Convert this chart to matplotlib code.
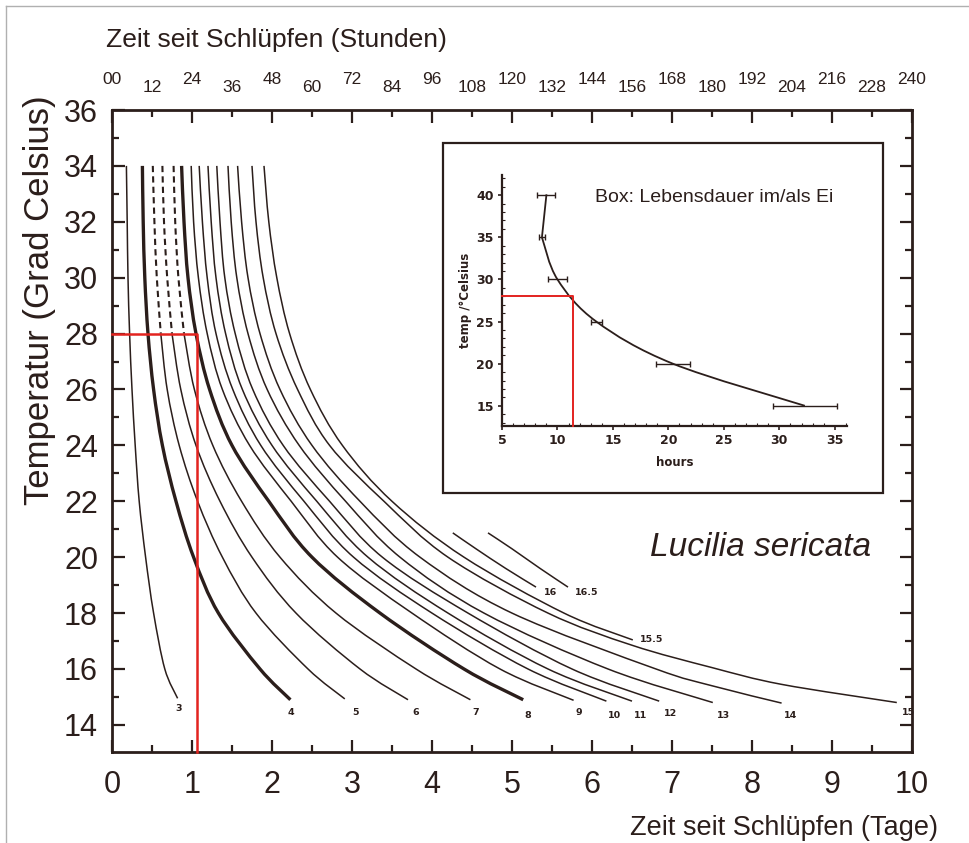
import matplotlib
matplotlib.use('Agg')
import matplotlib.pyplot as plt
from matplotlib.patches import Rectangle, PathPatch
from matplotlib.path import Path
from matplotlib.lines import Line2D
from matplotlib.ticker import MultipleLocator

# ---------------- data ----------------
day_ticks = list(range(0, 11))
temp_ticks = list(range(14, 37, 2))
hour_values = [0, 12, 24, 36, 48, 60, 72, 84, 96, 108, 120, 132, 144, 156,
               168, 180, 192, 204, 216, 228, 240]
hour_labels = ['00', '12', '24', '36', '48', '60', '72', '84', '96', '108', '120',
               '132', '144', '156', '168', '180', '192', '204', '216', '228', '240']

# isomegalen curves (larval length, mm): temperature (degC) vs time (days)
temps_3 = [34, 32, 30, 28, 26, 24, 22, 20, 18, 16, 14.95]
days_3 = [0.18, 0.19, 0.20, 0.22, 0.25, 0.29, 0.34, 0.42, 0.52, 0.66, 0.82]
temps_4 = [34, 32, 30, 28, 26, 24, 22, 20, 18, 16, 14.9]
days_4 = [0.38, 0.39, 0.41, 0.45, 0.52, 0.63, 0.80, 1.02, 1.33, 1.85, 2.23]
temps_5 = [34, 32, 30, 28, 26, 24, 22, 20, 18, 16, 14.93]
days_5 = [0.51, 0.53, 0.56, 0.61, 0.69, 0.84, 1.07, 1.38, 1.80, 2.45, 2.91]
temps_6 = [34, 32, 30, 28, 26, 24, 22, 20, 18, 16, 14.9]
days_6 = [0.63, 0.65, 0.69, 0.75, 0.86, 1.05, 1.35, 1.75, 2.30, 3.10, 3.70]
temps_7 = [34, 32, 30, 28, 26, 24, 22, 20, 18, 16, 14.9]
days_7 = [0.77, 0.79, 0.83, 0.90, 1.03, 1.26, 1.62, 2.10, 2.80, 3.80, 4.48]
temps_8 = [34, 32, 30, 28, 26, 24, 22, 20, 18, 16, 14.9]
days_8 = [0.87, 0.90, 0.95, 1.05, 1.22, 1.50, 1.96, 2.50, 3.35, 4.40, 5.14]
temps_9 = [34, 32, 30, 28, 26, 24, 22, 20, 18, 16, 14.88]
days_9 = [0.99, 1.02, 1.08, 1.19, 1.38, 1.72, 2.24, 2.82, 3.75, 4.85, 5.77]
temps_10 = [34, 32, 30, 28, 26, 24, 22, 20, 18, 16, 14.85]
days_10 = [1.09, 1.13, 1.19, 1.30, 1.51, 1.86, 2.40, 3.02, 4.00, 5.20, 6.18]
temps_11 = [34, 32, 30, 28, 26, 24, 22, 20, 18, 16, 14.85]
days_11 = [1.20, 1.24, 1.30, 1.42, 1.63, 2.00, 2.56, 3.20, 4.20, 5.45, 6.50]
temps_12 = [34, 32, 30, 28, 26, 24, 22, 20, 18, 16, 14.85]
days_12 = [1.31, 1.35, 1.41, 1.54, 1.76, 2.14, 2.72, 3.38, 4.45, 5.75, 6.84]
temps_13 = [34, 32, 30, 28, 26, 24, 22, 20, 18, 16, 14.8]
days_13 = [1.45, 1.49, 1.56, 1.70, 1.94, 2.34, 2.92, 3.60, 4.65, 6.20, 7.51]
temps_14 = [34, 32, 30, 28, 26, 24, 22, 20, 18, 16, 15.4, 14.78]
days_14 = [1.57, 1.62, 1.70, 1.85, 2.10, 2.50, 3.10, 3.85, 5.00, 6.80, 7.50, 8.37]
temps_15 = [34, 32, 30, 28, 26, 24, 22, 20, 18, 16.85, 16.05, 15.45, 14.8]
days_15 = [1.75, 1.80, 1.89, 2.05, 2.32, 2.72, 3.40, 4.20, 5.45, 6.50, 7.50, 8.37, 9.81]
temps_15_5 = [34, 32, 30, 28, 26, 24, 22, 20, 18, 17.04]
days_15_5 = [1.90, 1.96, 2.06, 2.22, 2.48, 2.88, 3.50, 4.40, 5.65, 6.51]
temps_16 = [20.87, 20.3, 19.6, 18.93]
days_16 = [4.26, 4.55, 4.92, 5.30]
temps_16_5 = [20.87, 20.3, 19.6, 18.93]
days_16_5 = [4.70, 5.00, 5.35, 5.70]

curve_names = ['3', '4', '5', '6', '7', '8', '9', '10', '11', '12', '13', '14', '15',
               '15.5', '16', '16.5']
curve_temps = [temps_3, temps_4, temps_5, temps_6, temps_7, temps_8, temps_9, temps_10,
               temps_11, temps_12, temps_13, temps_14, temps_15, temps_15_5, temps_16,
               temps_16_5]
curve_days = [days_3, days_4, days_5, days_6, days_7, days_8, days_9, days_10, days_11,
              days_12, days_13, days_14, days_15, days_15_5, days_16, days_16_5]
thick_curves = ['4', '8']
dashed_top_curves = ['5', '6', '7']
dash_limit_temp = 28

# marker (red) for 28 degC
marker_temp = 28
marker_day = 1.06

# inset: egg duration
egg_temps = [40, 35, 30, 25, 20, 15]
egg_hours = [9.0, 8.6, 10.0, 13.5, 20.4, 32.3]
egg_err = [0.8, 0.3, 0.85, 0.5, 1.55, 2.9]
egg_marker_hours = 11.4

# label positions (layout)
label_pos = {'3': (0.83, 14.57), '4': (2.24, 14.43), '5': (3.04, 14.43), '6': (3.80, 14.43),
             '7': (4.54, 14.43), '8': (5.20, 14.35), '9': (5.84, 14.46), '10': (6.28, 14.35),
             '11': (6.61, 14.35), '12': (6.98, 14.40), '13': (7.64, 14.35), '14': (8.48, 14.35),
             '15': (9.95, 14.43), '15.5': (6.74, 17.07), '16': (5.48, 18.72), '16.5': (5.93, 18.72)}

# ---------------- style ----------------
W, H = 970, 843
INK = '#2b1e1b'
RED = '#e3231f'
plt.rcParams['font.family'] = ['Liberation Sans', 'DejaVu Sans']

fig = plt.figure(figsize=(W / 100, H / 100), dpi=100)


def fx(px):
    return px / W


def fy(py):
    return 1 - py / H


def smooth_curve(ax, xs, ys, **kw):
    """Draw a smooth (Catmull-Rom style Bezier) line through the given points."""
    pts = list(zip(xs, ys))
    verts = [pts[0]]
    codes = [Path.MOVETO]
    n = len(pts)
    for i in range(n - 1):
        p0 = pts[i - 1] if i > 0 else pts[i]
        p1 = pts[i]
        p2 = pts[i + 1]
        p3 = pts[i + 2] if i + 2 < n else pts[i + 1]
        c1 = (p1[0] + (p2[0] - p0[0]) / 6, p1[1] + (p2[1] - p0[1]) / 6)
        c2 = (p2[0] - (p3[0] - p1[0]) / 6, p2[1] - (p3[1] - p1[1]) / 6)
        verts += [c1, c2, p2]
        codes += [Path.CURVE4] * 3
    patch = PathPatch(Path(verts, codes), fill=False, **kw)
    ax.add_patch(patch)


# outer thin frame of the scan
fig.add_artist(Line2D([fx(6), 1], [fy(6), fy(6)], color='#b0b0b0', lw=1.0))
fig.add_artist(Line2D([fx(6), fx(6)], [fy(6), 0], color='#b0b0b0', lw=1.0))

ax = fig.add_axes([fx(112), fy(752), fx(912) - fx(112), fy(110) - fy(752)])
ax.set_xlim(0, 10)
ax.set_ylim(13.03, 36)
for s in ax.spines.values():
    s.set_color(INK)
    s.set_linewidth(2.0)

ax.set_xticks(day_ticks)
ax.set_xticklabels([str(d) for d in day_ticks])
ax.xaxis.set_minor_locator(MultipleLocator(0.5))
ax.set_yticks(temp_ticks)
ax.set_yticklabels([str(t) for t in temp_ticks])
ax.yaxis.set_minor_locator(MultipleLocator(1))
ax.tick_params(which='both', direction='in', top=True, right=True, colors=INK, width=1.6)
ax.tick_params(which='major', length=9)
ax.tick_params(which='minor', length=5)
ax.tick_params(axis='x', which='major', labelsize=22, pad=13, labelcolor=INK)
ax.tick_params(axis='y', which='major', labelsize=22, pad=10, labelcolor=INK)

# curves
for name, temps, days in zip(curve_names, curve_temps, curve_days):
    lw = 2.4 if name in thick_curves else 1.1
    if name in dashed_top_curves:
        upper_t = [t for t in temps if t >= dash_limit_temp]
        upper_d = [d for t, d in zip(temps, days) if t >= dash_limit_temp]
        lower_t = [t for t in temps if t <= dash_limit_temp]
        lower_d = [d for t, d in zip(temps, days) if t <= dash_limit_temp]
        smooth_curve(ax, upper_d, upper_t, edgecolor=INK, lw=1.5, ls=(0, (3, 2)))
        smooth_curve(ax, lower_d, lower_t, edgecolor=INK, lw=lw)
    else:
        smooth_curve(ax, days, temps, edgecolor=INK, lw=lw)
    lx, ly = label_pos[name]
    ax.text(lx, ly, name, fontsize=6.8, fontweight='bold', color=INK,
            ha='center', va='center', family='DejaVu Sans')

# red marker
ax.plot([0, marker_day, marker_day], [marker_temp, marker_temp, 13.03],
        color=RED, lw=1.8, clip_on=False, zorder=5)

# top hours labels (staggered)
for i, (h, lab) in enumerate(zip(hour_values, hour_labels)):
    ypx = 80 if i % 2 == 0 else 87
    fig.text(fx(112 + h / 24 * 80), fy(ypx), lab, fontsize=12.5, color=INK,
             ha='center', va='center')

fig.text(fx(276), fy(40), 'Zeit seit Schlüpfen (Stunden)', fontsize=19, color=INK,
         ha='center', va='center')
fig.text(fx(938), fy(828), 'Zeit seit Schlüpfen (Tage)', fontsize=19.5, color=INK,
         ha='right', va='center')
fig.text(fx(40), fy(300), 'Temperatur (Grad Celsius)', fontsize=25, color=INK,
         ha='center', va='center', rotation=90)
ax.text(6.72, 20.33, 'Lucilia sericata', fontsize=24, style='italic', color=INK,
        ha='left', va='center')

# inset box
fig.add_artist(Rectangle((fx(443), fy(493)), fx(883) - fx(443), fy(143) - fy(493),
                         transform=fig.transFigure, fill=True, facecolor='white',
                         edgecolor=INK, lw=1.6, zorder=3))

iax = fig.add_axes([fx(502), fy(426), fx(847) - fx(502), fy(175) - fy(426)], zorder=4)
iax.patch.set_alpha(0)
iax.set_xlim(5, 36.1)
iax.set_ylim(12.6, 42.4)
iax.spines['top'].set_visible(False)
iax.spines['right'].set_visible(False)
for s in ['left', 'bottom']:
    iax.spines[s].set_color(INK)
    iax.spines[s].set_linewidth(1.6)
iax.set_xticks([5, 10, 15, 20, 25, 30, 35])
iax.set_yticks([15, 20, 25, 30, 35, 40])
iax.xaxis.set_minor_locator(MultipleLocator(1))
iax.yaxis.set_minor_locator(MultipleLocator(1))
iax.tick_params(which='major', direction='out', length=3, width=1.2, colors=INK,
                labelsize=9, pad=3)
iax.tick_params(which='minor', direction='in', length=2, width=0.8, colors=INK)
for lab in iax.get_xticklabels() + iax.get_yticklabels():
    lab.set_fontweight('bold')
    lab.set_family('DejaVu Sans')
iax.set_xlabel('hours', fontsize=8.5, fontweight='bold', color=INK, family='DejaVu Sans',
               labelpad=6)
iax.set_ylabel('temp /°Celsius', fontsize=8.5, fontweight='bold', color=INK,
               family='DejaVu Sans', labelpad=3)
iax.errorbar(egg_hours, egg_temps, xerr=egg_err, fmt='none', ecolor=INK, elinewidth=1.0,
             capsize=2, capthick=1.0)
# straight segment at the top, smooth curve from 35 degC downwards
iax.plot(egg_hours[:2], egg_temps[:2], color=INK, lw=1.3)
smooth_curve(iax, egg_hours[1:], egg_temps[1:], edgecolor=INK, lw=1.3)
iax.plot([5, egg_marker_hours, egg_marker_hours], [marker_temp, marker_temp, 12.6],
         color=RED, lw=1.4, clip_on=False, zorder=5)
fig.text(fx(595), fy(197), 'Box: Lebensdauer im/als Ei', fontsize=14, color=INK,
         ha='left', va='center', zorder=6)

fig.savefig('out.png', dpi=100, facecolor='white')
